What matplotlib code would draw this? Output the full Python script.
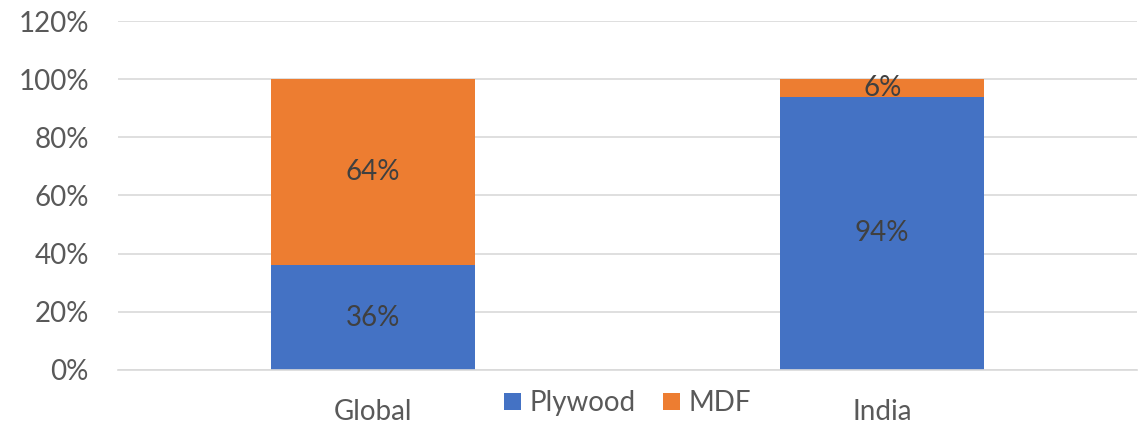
import matplotlib.pyplot as plt
import numpy as np

plt.rcParams['font.family'] = ['Lato', 'DejaVu Sans']

regions = ['Global', 'India']
plywood = [36, 94]
mdf = [64, 6]
yticks = [0, 20, 40, 60, 80, 100, 120]

blue = '#4472C4'
orange = '#ED7D31'

fig = plt.figure(figsize=(11.48, 4.26), dpi=100)
ax = fig.add_axes([0.1028, 0.1315, 0.8876, 0.8192])

x = np.arange(len(regions))
b1 = ax.bar(x, plywood, width=0.4, color=blue, label='Plywood', zorder=2)
b2 = ax.bar(x, mdf, width=0.4, bottom=plywood, color=orange, label='MDF', zorder=2)

for bars, vals in ((b1, plywood), (b2, mdf)):
    for rect, v in zip(bars, vals):
        ax.text(rect.get_x() + rect.get_width() / 2, rect.get_y() + rect.get_height() / 2,
                f'{v}%', ha='center', va='center', fontsize=20, color='#404040', zorder=3)

ax.set_xlim(-0.5, 1.5)
ax.set_ylim(0, 120)
ax.set_yticks(yticks)
ax.set_yticklabels([f'{t}%' for t in yticks])
ax.set_xticks(x)
ax.set_xticklabels(regions)
ax.tick_params(axis='both', length=0, labelsize=20, labelcolor='#595959')
ax.tick_params(axis='y', pad=21)
ax.tick_params(axis='x', pad=21)
ax.yaxis.grid(True, color='#D9D9D9', linewidth=1.2, zorder=0)
for s in ['top', 'right', 'left']:
    ax.spines[s].set_visible(False)
ax.spines['bottom'].set_color('#D9D9D9')
ax.spines['bottom'].set_linewidth(1.2)

ax.legend(loc='center', bbox_to_anchor=(0.5, -0.095), ncol=2, frameon=False,
          fontsize=20, labelcolor='#595959', handlelength=0.6, handleheight=0.6,
          handletextpad=0.3, columnspacing=1.0)

fig.savefig('out.png', dpi=100)
